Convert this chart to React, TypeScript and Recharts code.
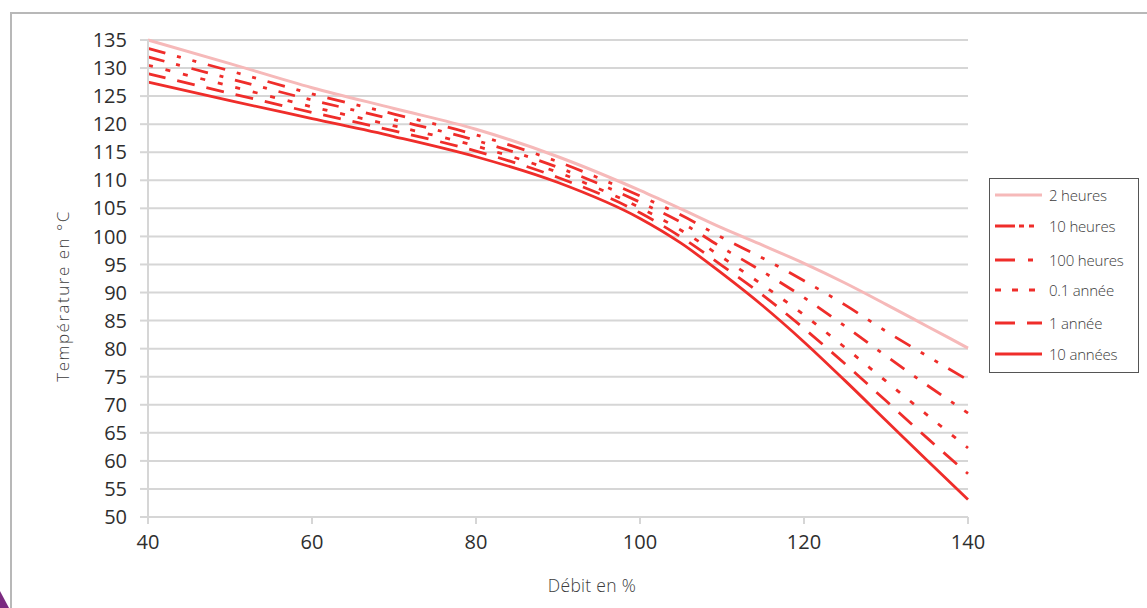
import React from 'react';
import { LineChart, Line, XAxis, YAxis, CartesianGrid, Legend } from 'recharts';

const debit = [40, 50, 60, 70, 80, 90, 100, 105, 110, 115, 120, 125, 130, 135, 140];
const h2 = [135, 130.8, 126.5, 122.8, 119.1, 114.2, 108.2, 104.9, 101.5, 98.4, 95.2, 91.7, 87.9, 84.0, 80.1];
const h10 = [133.5, 129.5, 125.4, 121.8, 118.1, 113.3, 107.2, 103.8, 99.8, 96.1, 92.1, 87.8, 83.1, 78.7, 74.4];
const h100 = [132.0, 128.1, 124.3, 120.8, 117.1, 112.3, 106.1, 102.5, 98.0, 93.7, 89.1, 84.0, 78.7, 73.5, 68.5];
const a01 = [130.5, 126.8, 123.1, 119.7, 116.1, 111.4, 105.1, 101.1, 96.3, 91.3, 86.0, 80.2, 74.2, 68.2, 62.3];
const a1 = [129.0, 125.5, 122.1, 118.8, 115.2, 110.5, 104.2, 99.9, 94.8, 89.5, 83.6, 77.3, 70.7, 64.1, 57.7];
const a10 = [127.5, 124.2, 121.0, 117.8, 114.2, 109.6, 103.2, 98.8, 93.4, 87.6, 81.2, 74.3, 67.2, 60.1, 53.1];

const xTicks = [40, 60, 80, 100, 120, 140];
const yTicks = [50, 55, 60, 65, 70, 75, 80, 85, 90, 95, 100, 105, 110, 115, 120, 125, 130, 135];

const RED = '#ef2d2a';
const PINK = '#f6b9b9';

const series = [
  { key: 'h2', name: '2 heures', values: h2, color: PINK, dash: undefined, legendDash: undefined, width: 3 },
  { key: 'h10', name: '10 heures', values: h10, color: RED, dash: '18 12 4 12 4 12', legendDash: '20 4 5 5 5 30', width: 2.8 },
  { key: 'h100', name: '100 heures', values: h100, color: RED, dash: '17 12 4 12', legendDash: '20 13 5 30', width: 2.8 },
  { key: 'a01', name: '0.1 année', values: a01, color: RED, dash: '5 13', legendDash: '6 11', width: 2.8 },
  { key: 'a1', name: '1 année', values: a1, color: RED, dash: '18 12', legendDash: '20 12', width: 2.8 },
  { key: 'a10', name: '10 années', values: a10, color: RED, dash: undefined, legendDash: undefined, width: 2.8 },
];

const data = debit.map((d, i) => {
  const row: Record<string, number> = { debit: d };
  series.forEach((s) => {
    row[s.key] = s.values[i];
  });
  return row;
});

const FONT = '"Open Sans", "Noto Sans", sans-serif';
const TEXT = '#3c3c3c';
const TICK = '#2e2e2e';
const GRID = '#d6d6d6';

const renderLegend = () => (
  <div
    style={{
      width: 150,
      height: 195,
      border: '1px solid #555',
      boxSizing: 'border-box',
      background: '#fff',
      position: 'relative',
      fontFamily: FONT,
    }}
  >
    {series.map((s, i) => {
      const ys = [16, 47, 81, 111, 144, 175];
      const y = ys[i];
      return (
        <div key={s.key} style={{ position: 'absolute', left: 0, top: y - 10, height: 20, width: 150 }}>
          <svg width={56} height={20} style={{ position: 'absolute', left: 0, top: 0 }}>
            <line
              x1={5}
              x2={52}
              y1={10}
              y2={10}
              stroke={s.color}
              strokeWidth={s.width}
              strokeDasharray={s.legendDash}
            />
          </svg>
          <span
            style={{
              position: 'absolute',
              left: 59,
              top: 0,
              lineHeight: '20px',
              fontSize: 15,
              fontWeight: 300,
              color: TEXT,
              whiteSpace: 'nowrap',
              letterSpacing: -0.2,
            }}
          >
            {s.name}
          </span>
        </div>
      );
    })}
  </div>
);

export default function App() {
  return (
    <div style={{ position: 'absolute', left: 0, top: 0, width: 1147, height: 608, background: '#fff', overflow: 'hidden' }}>
      <div style={{ position: 'absolute', left: 10, top: 12, width: 1200, height: 700, borderLeft: '2px solid #b8b8b8', borderTop: '2px solid #b8b8b8' }} />
      <svg width={20} height={30} style={{ position: 'absolute', left: 0, top: 578 }}>
        <polygon points="0,13 0,30 9,30" fill="#7b2a80" />
      </svg>
      <div style={{ position: 'absolute', left: 0, top: 0 }}>
        <LineChart width={1147} height={608} data={data} margin={{ top: 40, right: 179, bottom: 51, left: 88 }}>
          <CartesianGrid horizontal={true} vertical={false} stroke={GRID} strokeWidth={2} />
          <XAxis
            dataKey="debit"
            type="number"
            domain={[40, 140]}
            ticks={xTicks}
            interval={0}
            height={40}
            tickSize={7}
            tickMargin={11}
            axisLine={{ stroke: GRID, strokeWidth: 2 }}
            tickLine={{ stroke: GRID, strokeWidth: 2 }}
            tick={{ fontSize: 20, fill: TICK, fontFamily: FONT }}
          />
          <YAxis
            type="number"
            domain={[50, 135]}
            ticks={yTicks}
            interval={0}
            width={60}
            tickSize={8}
            tickMargin={13}
            axisLine={{ stroke: GRID, strokeWidth: 2 }}
            tickLine={{ stroke: GRID, strokeWidth: 2 }}
            tick={{ fontSize: 20, fill: TICK, fontFamily: FONT }}
          />
          {series.map((s) => (
            <Line
              key={s.key}
              dataKey={s.key}
              name={s.name}
              type="monotone"
              stroke={s.color}
              strokeWidth={s.width}
              strokeDasharray={s.dash}
              dot={false}
              activeDot={false}
              isAnimationActive={false}
            />
          ))}
          <Legend
            layout="vertical"
            align="center"
            verticalAlign="middle"
            content={renderLegend}
            wrapperStyle={{ left: 989, top: 178, width: 150, height: 195 }}
          />
        </LineChart>
      </div>
      <div
        style={{
          position: 'absolute',
          left: 62,
          top: 296,
          transform: 'translate(-50%, -50%) rotate(-90deg)',
          fontFamily: FONT,
          fontSize: 17,
          fontWeight: 300,
          color: TEXT,
          whiteSpace: 'nowrap',
          letterSpacing: 1.5,
        }}
      >
        Température en °C
      </div>
      <div
        style={{
          position: 'absolute',
          left: 592,
          top: 585,
          transform: 'translate(-50%, -50%)',
          fontFamily: FONT,
          fontSize: 17.5,
          fontWeight: 300,
          color: TEXT,
          whiteSpace: 'nowrap',
          letterSpacing: 0.3,
        }}
      >
        Débit en %
      </div>
    </div>
  );
}
